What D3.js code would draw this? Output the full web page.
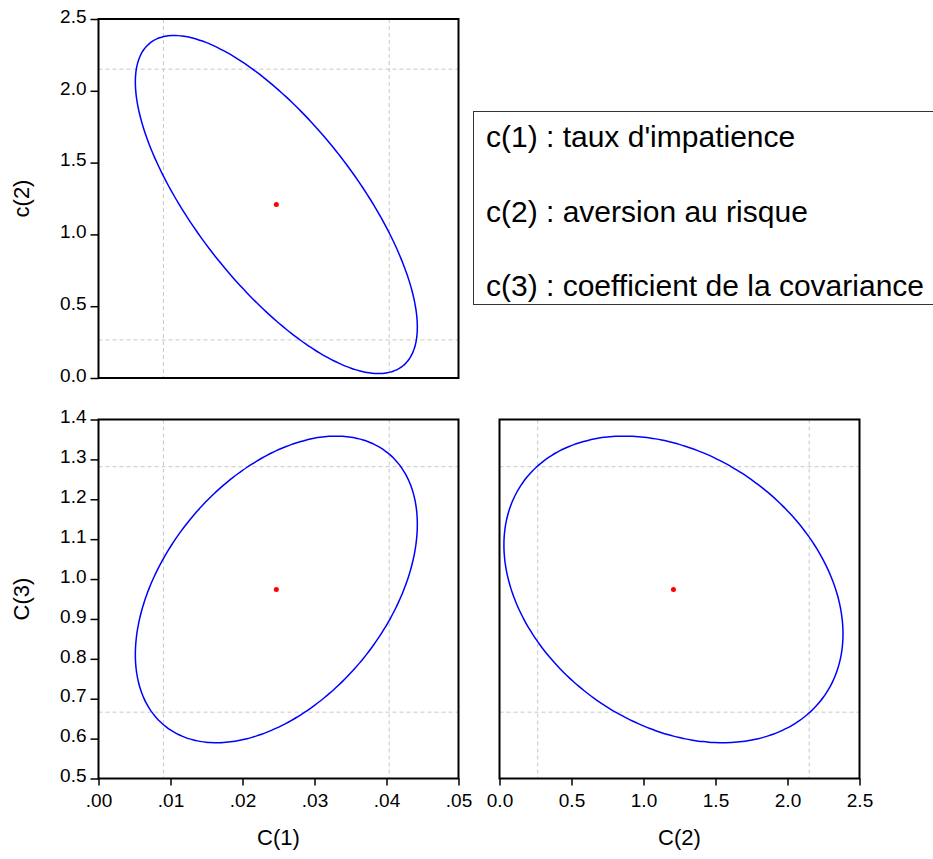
<!DOCTYPE html>
<html>
<head>
<meta charset="utf-8">
<script src="https://cdn.jsdelivr.net/npm/d3@7"></script>
<style>
  body { margin: 0; background: #fff; }
  text { font-family: Arial, "Liberation Sans", sans-serif; fill: #000; }
</style>
</head>
<body>
<div id="chart"></div>
<script>
// Coefficient estimates, standard errors and correlations
var paramNames = ["C(1)", "C(2)", "C(3)"];
var estimates = [0.0247, 1.208, 0.974];
var stdErrors = [0.0080, 0.481, 0.157];
// [x param, y param, correlation]
var pairs = [[0, 1, -0.725], [0, 2, 0.425], [1, 2, -0.29]];

// axis domains and ticks
var c1Ticks = [0, 0.01, 0.02, 0.03, 0.04, 0.05];
var c2Ticks = [0, 0.5, 1.0, 1.5, 2.0, 2.5];
var c3Ticks = [0.5, 0.6, 0.7, 0.8, 0.9, 1.0, 1.1, 1.2, 1.3, 1.4];
var domains = [[0, 0.05], [0, 2.5], [0.5, 1.4]];
var tickLists = [c1Ticks, c2Ticks, c3Ticks];

var legendLines = [
  "c(1) : taux d'impatience",
  "c(2) : aversion au risque",
  "c(3) : coefficient de la covariance"
];

var svgWidth = 933;
var svgHeight = 859;

var svg = d3.select("#chart")
  .append("svg")
  .attr("width", svgWidth)
  .attr("height", svgHeight);

// 95% marginal and joint critical values
var zMarg = 1.96;
var kJoint = Math.sqrt(5.991);

var panelW = 360, panelH = 359;

// panel layout: pair index, position, which axes show
var panels = [
  {pair: 0, left: 98.5, top: 19, showX: false, showY: true, yTitle: "c(2)"},
  {pair: 1, left: 98.5, top: 419.5, showX: true, showY: true, yTitle: "C(3)", xTitle: "C(1)"},
  {pair: 2, left: 499.5, top: 419.5, showX: true, showY: false, xTitle: "C(2)"}
];

var fmtC1 = function(d) { return d3.format(".2f")(d).replace(/^0/, ""); };
var fmt1 = d3.format(".1f");

panels.forEach(function(p) {
  var pr = pairs[p.pair];
  var ix = pr[0], iy = pr[1], rho = pr[2];

  var x = d3.scaleLinear().domain(domains[ix]).range([0, panelW]);
  var y = d3.scaleLinear().domain(domains[iy]).range([panelH, 0]);

  var g = svg.append("g")
    .attr("transform", `translate(${p.left}, ${p.top})`);

  // dashed marginal confidence lines
  var xLines = [estimates[ix] - zMarg * stdErrors[ix], estimates[ix] + zMarg * stdErrors[ix]];
  var yLines = [estimates[iy] - zMarg * stdErrors[iy], estimates[iy] + zMarg * stdErrors[iy]];

  g.selectAll(".vline")
    .data(xLines)
    .enter()
    .append("line")
    .attr("x1", d => x(d)).attr("x2", d => x(d))
    .attr("y1", 0).attr("y2", panelH)
    .attr("stroke", "#c8c8c8")
    .attr("stroke-width", 1)
    .attr("stroke-dasharray", "4,3");

  g.selectAll(".hline")
    .data(yLines)
    .enter()
    .append("line")
    .attr("x1", 0).attr("x2", panelW)
    .attr("y1", d => y(d)).attr("y2", d => y(d))
    .attr("stroke", "#c8c8c8")
    .attr("stroke-width", 1)
    .attr("stroke-dasharray", "4,3");

  // confidence ellipse
  var angles = d3.range(0, 360, 2).map(a => a * Math.PI / 180);
  var pts = angles.map(function(t) {
    var px = estimates[ix] + kJoint * stdErrors[ix] * Math.cos(t);
    var py = estimates[iy] + kJoint * stdErrors[iy] *
      (rho * Math.cos(t) + Math.sqrt(1 - rho * rho) * Math.sin(t));
    return [px, py];
  });
  var line = d3.line()
    .x(d => x(d[0]))
    .y(d => y(d[1]))
    .curve(d3.curveCardinalClosed);

  g.append("path")
    .datum(pts)
    .attr("d", line)
    .attr("fill", "none")
    .attr("stroke", "#0000ff")
    .attr("stroke-width", 1.5);

  // point estimate
  g.append("circle")
    .attr("cx", x(estimates[ix]))
    .attr("cy", y(estimates[iy]))
    .attr("r", 2.5)
    .attr("fill", "#ff0000");

  // axes
  if (p.showY) {
    var leftAxis = d3.axisLeft(y)
      .tickValues(tickLists[iy])
      .tickFormat(fmt1)
      .tickSize(8)
      .tickPadding(4);
    var ya = g.append("g").call(leftAxis);
    ya.select(".domain").remove();
    ya.selectAll("line").attr("stroke", "#000").attr("stroke-width", 1.5);
    ya.selectAll("text")
      .attr("font-size", "19px")
      .attr("font-family", "Arial, 'Liberation Sans', sans-serif")
      .attr("dy", "0.17em");
  }
  if (p.showX) {
    var bottomAxis = d3.axisBottom(x)
      .tickValues(tickLists[ix])
      .tickFormat(ix === 0 ? fmtC1 : fmt1)
      .tickSize(7)
      .tickPadding(8);
    var xa = g.append("g")
      .attr("transform", `translate(0, ${panelH})`)
      .call(bottomAxis);
    xa.select(".domain").remove();
    xa.selectAll("line").attr("stroke", "#000").attr("stroke-width", 1.5);
    xa.selectAll("text")
      .attr("font-size", "19px")
      .attr("font-family", "Arial, 'Liberation Sans', sans-serif");
  }

  // frame
  g.append("rect")
    .attr("x", 0).attr("y", 0)
    .attr("width", panelW).attr("height", panelH)
    .attr("fill", "none")
    .attr("stroke", "#000")
    .attr("stroke-width", 2);

  // axis titles
  if (p.xTitle) {
    g.append("text")
      .attr("x", panelW / 2)
      .attr("y", 845 - p.top)
      .attr("text-anchor", "middle")
      .attr("font-size", "22px")
      .text(p.xTitle);
  }
  if (p.yTitle) {
    g.append("text")
      .attr("transform", `translate(${29 - p.left}, ${panelH / 2}) rotate(-90)`)
      .attr("text-anchor", "middle")
      .attr("font-size", "22px")
      .text(p.yTitle);
  }
});

// legend box
var legend = svg.append("g");
legend.append("rect")
  .attr("x", 473.5).attr("y", 111.5)
  .attr("width", 480).attr("height", 193)
  .attr("fill", "#fff")
  .attr("stroke", "#333")
  .attr("stroke-width", 1);

legend.selectAll(".legText")
  .data(legendLines)
  .enter()
  .append("text")
  .attr("x", 486)
  .attr("y", (d, i) => 147 + i * 74.5)
  .attr("font-size", "30px")
  .text(d => d);
</script>
</body>
</html>
